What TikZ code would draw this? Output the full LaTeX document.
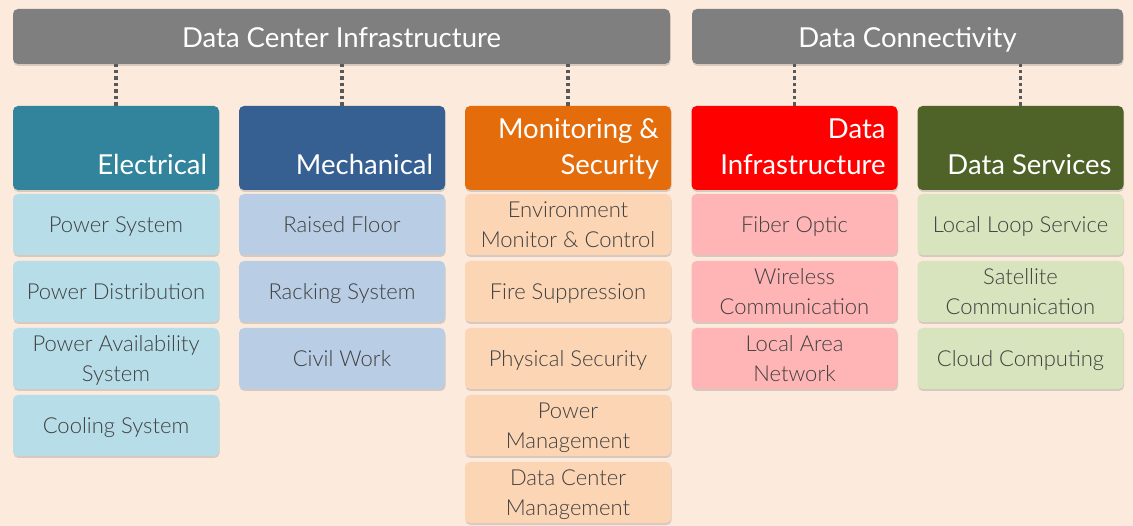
\documentclass[tikz,border=0pt]{standalone}
\usepackage{fontspec}
\setmainfont{Lato}
\newfontfamily\lightfont{Lato Light}
\usetikzlibrary{positioning,shadows}
\definecolor{bgpeach}{HTML}{FCEADC}
\definecolor{bargray}{HTML}{7F7F7F}
\definecolor{linkgray}{HTML}{595959}
\definecolor{itemtext}{HTML}{404040}
\definecolor{elechead}{HTML}{31849B}
\definecolor{elecitem}{HTML}{B7DDE8}
\definecolor{mechhead}{HTML}{376092}
\definecolor{mechitem}{HTML}{B9CDE5}
\definecolor{monhead}{HTML}{E46C0A}
\definecolor{monitem}{HTML}{FCD5B5}
\definecolor{dinfhead}{HTML}{FF0000}
\definecolor{dinfitem}{HTML}{FFB5B5}
\definecolor{dsrvhead}{HTML}{4F6228}
\definecolor{dsrvitem}{HTML}{D7E4BD}
\begin{document}
\begin{tikzpicture}[x=1pt, y=-1pt,
    box/.style={rounded corners=5pt, minimum width=206pt, inner sep=0pt, drop shadow={shadow xshift=0.5pt, shadow yshift=-2pt, opacity=0.3}},
    topbar/.style={box, fill=bargray, minimum height=55pt, text=white, text height=23pt, text depth=0pt, font=\fontsize{27.5}{33}\selectfont},
    head/.style={box, minimum height=84pt},
    headtext/.style={anchor=south east, inner sep=0pt, text depth=0pt, text=white, align=right, font=\fontsize{27.5}{36}\selectfont},
    item/.style={box, minimum height=61pt, text=itemtext, text depth=0pt, align=center, font=\lightfont\fontsize{22}{30}\selectfont},
    link/.style={draw=linkgray, line width=3.5pt, dash pattern=on 3.5pt off 3pt}]
    \fill[bgpeach] (0,0) rectangle (1133,526);
    \useasboundingbox (0,0) rectangle (1133,526);
    % Top level bars
    \node[topbar, minimum width=657pt] (dci) at (341.5,36.5) {Data Center Infrastructure};
    \node[topbar, minimum width=431pt] (dcon) at (907.5,36.5) {Data Connectivity};
    % Column heads
    \node[head, fill=elechead] (elec) at (116,148) {};
    \node[head, fill=mechhead] (mech) at (342,148) {};
    \node[head, fill=monhead] (mon) at (568,148) {};
    \node[head, fill=dinfhead] (dinf) at (794.5,148) {};
    \node[head, fill=dsrvhead] (dsrv) at (1020.5,148) {};
    \node[headtext] at ([xshift=-12pt, yshift=15pt]elec.south east) {Electrical};
    \node[headtext] at ([xshift=-12pt, yshift=15pt]mech.south east) {Mechanical};
    \node[headtext] at ([xshift=-12pt, yshift=15pt]mon.south east) {Monitoring \&\\Security};
    \node[headtext] at ([xshift=-12pt, yshift=15pt]dinf.south east) {Data\\Infrastructure};
    \node[headtext] at ([xshift=-12pt, yshift=15pt]dsrv.south east) {Data Services};
    % Dotted links from the bars
    \draw[link] (elec.north) -- (elec.north |- dci.south);
    \draw[link] (mech.north) -- (mech.north |- dci.south);
    \draw[link] (mon.north) -- (mon.north |- dci.south);
    \draw[link] (dinf.north) -- (dinf.north |- dcon.south);
    \draw[link] (dsrv.north) -- (dsrv.north |- dcon.south);
    % Items under each head
    \foreach \txt [count=\i] in {Power System, Power Distribution, {Power Availability\\System}, Cooling System}
        \node[item, fill=elecitem] (elec\i) at (116,157.5+67*\i) {\txt};
    \foreach \txt [count=\i] in {Raised Floor, Racking System, Civil Work}
        \node[item, fill=mechitem] (mech\i) at (342,157.5+67*\i) {\txt};
    \foreach \txt [count=\i] in {{Environment\\Monitor \& Control}, Fire Suppression, Physical Security, {Power\\Management}, {Data Center\\Management}}
        \node[item, fill=monitem] (mon\i) at (568,157.5+67*\i) {\txt};
    \foreach \txt [count=\i] in {Fiber Optic, {Wireless\\Communication}, {Local Area\\Network}}
        \node[item, fill=dinfitem] (dinf\i) at (794.5,157.5+67*\i) {\txt};
    \foreach \txt [count=\i] in {Local Loop Service, {Satellite\\Communication}, Cloud Computing}
        \node[item, fill=dsrvitem] (dsrv\i) at (1020.5,157.5+67*\i) {\txt};
\end{tikzpicture}
\end{document}
